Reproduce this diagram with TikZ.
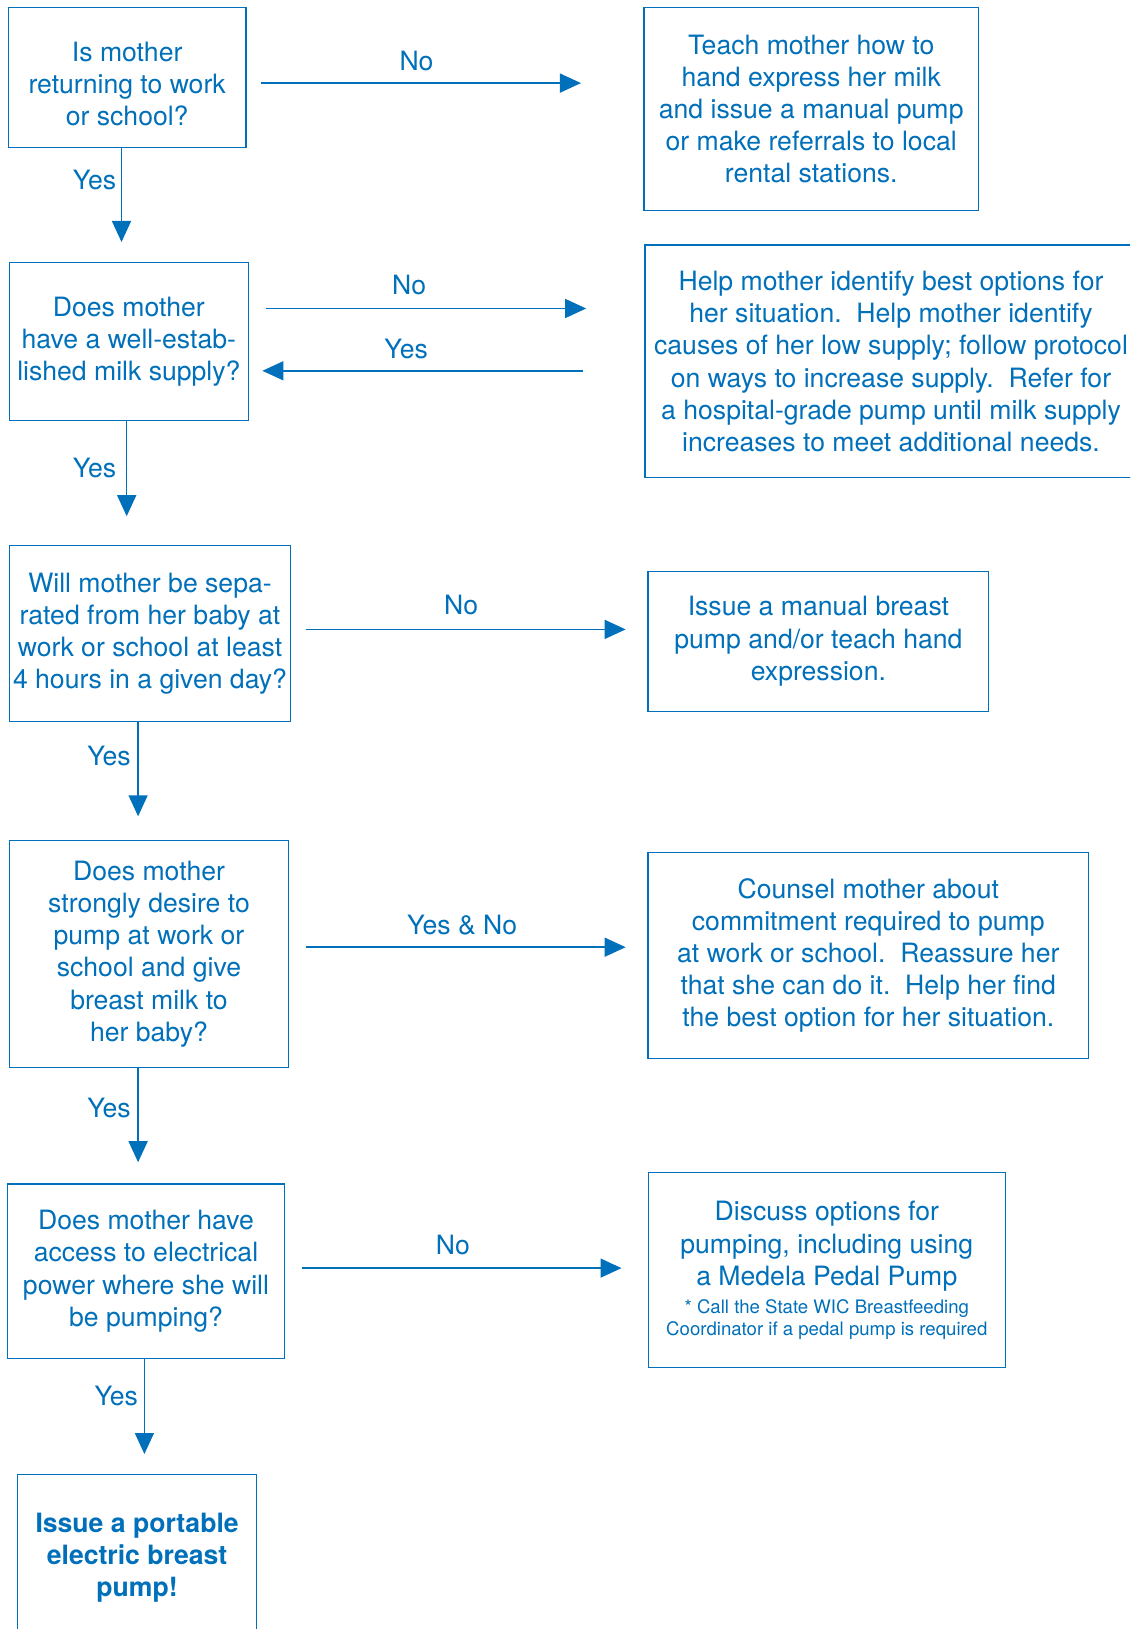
\documentclass[tikz,border=0pt]{standalone}
\usepackage{fontspec}
\setmainfont{TeX Gyre Heros}
\usetikzlibrary{arrows.meta,calc}
\definecolor{wicblue}{RGB}{0,112,186}
\begin{document}
\begin{tikzpicture}[x=1pt,y=-1pt,
  box/.style={draw=wicblue,line width=1.3pt,inner sep=0pt,text=wicblue,align=center,
    font=\fontsize{26.6}{32.2}\selectfont},
  txt/.style={text=wicblue,align=center,inner sep=0pt,font=\fontsize{26.6}{32.2}\selectfont},
  arr/.style={draw=wicblue,line width=1.5pt,-{Triangle[length=21pt,width=19pt]}},
  lab/.style={text=wicblue,inner sep=0pt,font=\fontsize{26.6}{32.2}\selectfont}]
\useasboundingbox (0,0) rectangle (1130,1629);
\clip (0,0) rectangle (1130,1629);
\fill[white] (0,0) rectangle (1130,1629);

% left column
\node[box,minimum width=237.8pt,minimum height=140.2pt] (b1) at (127.2,77.4) {};
\node[txt] (b1t) at (127.2,84.2) {Is mother\\returning to work\\or school?};
\node[box,minimum width=238.9pt,minimum height=157.8pt] (b2) at (128.8,341.7)
  {Does mother\\have a well-estab-\\lished milk supply?};
\node[box,minimum width=281.5pt,minimum height=176.5pt] (b3) at (150,633.5)
  {Will mother be sepa-\\rated from her baby at\\work or school at least\\4 hours in a given day?};
\node[box,minimum width=279.4pt,minimum height=227.5pt] (b4) at (149,954)
  {Does mother\\strongly desire to\\pump at work or\\school and give\\breast milk to\\her baby?};
\node[box,minimum width=277.3pt,minimum height=174.5pt] (b5) at (146,1271.2)
  {Does mother have\\access to electrical\\power where she will\\be pumping?};
\node[box,minimum width=238.8pt,minimum height=166.2pt,font=\fontsize{26.6}{32.2}\selectfont\bfseries] (b6) at (137.1,1557.5)
  {Issue a portable\\electric breast\\pump!};

% right column
\node[box,minimum width=334.4pt,minimum height=203.5pt] (t1) at (811.2,109)
  {Teach mother how to\\hand express her milk\\and issue a manual pump\\or make referrals to local\\rental stations.};
\node[box,minimum width=492pt,minimum height=232.7pt] (t2) at (891,361.4)
  {Help mother identify best options for\\her situation.\ \ Help mother identify\\causes of her low supply; follow protocol\\on ways to increase supply.\ \ Refer for\\a hospital-grade pump until milk supply\\increases to meet additional needs.};
\node[box,minimum width=340.6pt,minimum height=140.2pt] (t3) at (818.4,641.3)
  {Issue a manual breast\\pump and/or teach hand\\expression.};
\node[box,minimum width=440.4pt,minimum height=205.6pt] (t4) at (868.3,955.5)
  {Counsel mother about\\commitment required to pump\\at work or school.\ \ Reassure her\\that she can do it.\ \ Help her find\\the best option for her situation.};
\node[box,minimum width=357.3pt,minimum height=195.2pt] (t5) at (826.8,1270.2)
  {Discuss options for\\pumping, including using\\a Medela Pedal Pump\\[-4.2pt]
   \fontsize{18.6}{21.8}\selectfont * Call the State WIC Breastfeeding\\[-10.4pt]
   \fontsize{18.6}{21.8}\selectfont Coordinator if a pedal pump is required};

% horizontal connectors
\draw[arr] ($(b1.east |- 0,83.1)+(14.6,0)$) -- ($(t1.west |- 0,83.1)+(-62.4,0)$);
\draw[arr] ($(b2.east |- 0,308.5)+(16.6,0)$) -- ($(t2.west |- 0,308.5)+(-58.2,0)$);
\draw[arr] ($(t2.west |- 0,370.8)+(-61.3,0)$) -- ($(b2.east |- 0,370.8)+(13.5,0)$);
\draw[arr] ($(b3.east |- 0,629.4)+(14.5,0)$) -- ($(t3.west |- 0,629.4)+(-21.8,0)$);
\draw[arr] ($(b4.east |- 0,947.2)+(16.6,0)$) -- ($(t4.west |- 0,947.2)+(-21.8,0)$);
\draw[arr] ($(b5.east |- 0,1268.1)+(16.6,0)$) -- ($(t5.west |- 0,1268.1)+(-26,0)$);

% vertical connectors
\draw[arr] (b1.south -| 121.5,0) -- (121.5,242);
\draw[arr] (b2.south -| 126.7,0) -- (126.7,516.2);
\draw[arr] (b3.south -| 138.1,0) -- (138.1,816.3);
\draw[arr] (b4.south -| 138.1,0) -- (138.1,1162.2);
\draw[arr] (b5.south -| 144.4,0) -- (144.4,1454);

% labels
\node[lab] (l1) at (416.5,60.9) {No};
\node[lab] (l2) at (94.5,180.4) {Yes};
\node[lab] (l3) at (409.2,285.3) {No};
\node[lab] (l4) at (406.1,348.7) {Yes};
\node[lab] (l5) at (94.5,468.1) {Yes};
\node[lab] (l6) at (461.1,605.2) {No};
\node[lab] (l7) at (109,755.8) {Yes};
\node[lab] (l8) at (462.2,925.1) {Yes \& No};
\node[lab] (l9) at (109,1107.9) {Yes};
\node[lab] (l10) at (452.8,1245) {No};
\node[lab] (l11) at (116.3,1395.5) {Yes};
\end{tikzpicture}
\end{document}
